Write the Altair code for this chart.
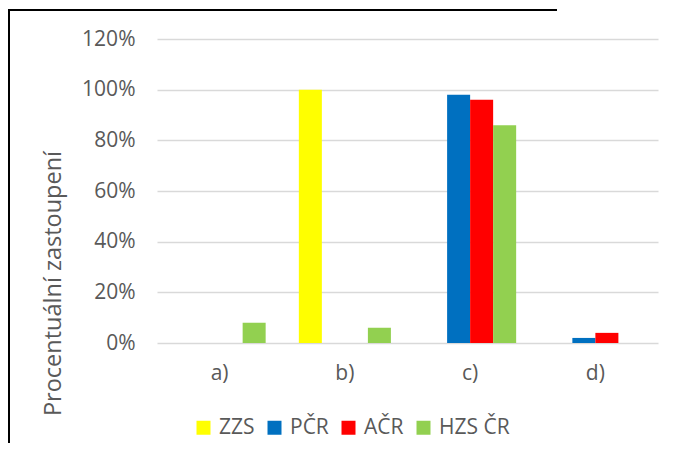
import altair as alt
import pandas as pd

categories = ["a)", "b)", "c)", "d)"]
series = ["ZZS", "PČR", "AČR", "HZS ČR"]
colors = ["#FFFF00", "#0070C0", "#FF0000", "#92D050"]
values = {
    "ZZS":    [0, 100, 0, 0],
    "PČR":    [0, 0, 98, 2],
    "AČR":    [0, 0, 96, 4],
    "HZS ČR": [8, 6, 86, 0],
}

rows = []
for s in series:
    for c, v in zip(categories, values[s]):
        rows.append({"kat": c, "slozka": s, "hodnota": v / 100})
df = pd.DataFrame(rows)

FONT = "Open Sans"
GRAY = "#595959"
FS = 21

bars = alt.Chart(df).mark_bar().encode(
    x=alt.X("kat:N", sort=categories,
            scale=alt.Scale(paddingInner=0.265, paddingOuter=0.1325),
            axis=alt.Axis(title=None, labelAngle=0, ticks=False, domain=False,
                          labelPadding=19, labelFontSize=FS, labelColor=GRAY,
                          labelFont=FONT, grid=False)),
    xOffset=alt.XOffset("slozka:N", sort=series),
    y=alt.Y("hodnota:Q",
            scale=alt.Scale(domain=[0, 1.2]),
            axis=alt.Axis(title="Procentuální zastoupení", format=".0%",
                          values=[0, 0.2, 0.4, 0.6, 0.8, 1.0, 1.2],
                          ticks=False, domain=False, labelPadding=22,
                          labelFontSize=FS, labelColor=GRAY, labelFont=FONT,
                          titleFontSize=23.5, titleColor=GRAY, titleFont=FONT,
                          titleFontWeight="normal", titleX=-104, titleY=244,
                          titleAngle=-90, titleBaseline="middle", titleAlign="center",
                          gridColor="#D9D9D9", gridWidth=1.5)),
    color=alt.Color("slozka:N", sort=series,
                    scale=alt.Scale(domain=series, range=colors),
                    legend=alt.Legend(title=None, orient="none", direction="horizontal",
                                      legendX=36, legendY=378,
                                      symbolType="square", symbolSize=196,
                                      symbolStrokeWidth=0, labelFontSize=FS,
                                      labelColor=GRAY, labelFont=FONT,
                                      columnPadding=9, labelOffset=5)),
)

one = pd.DataFrame({"f": [0]})
left_edge = alt.Chart(one).mark_rect(color="#000000", strokeWidth=0).encode(
    x=alt.value(-149), x2=alt.value(-147), y=alt.value(-30), y2=alt.value(300 + 104),
)
top_edge = alt.Chart(one).mark_rect(color="#000000", strokeWidth=0).encode(
    x=alt.value(-149), x2=alt.value(400), y=alt.value(-30), y2=alt.value(-28),
)

chart = alt.layer(left_edge, top_edge, bars).properties(
    width=501, height=304,
    autosize=alt.AutoSizeParams(type="none"),
    padding={"left": 149, "top": 31, "right": 11, "bottom": 100},
).configure_view(stroke=None)

chart.save("out.html", embed_options={"renderer": "svg", "actions": False})
